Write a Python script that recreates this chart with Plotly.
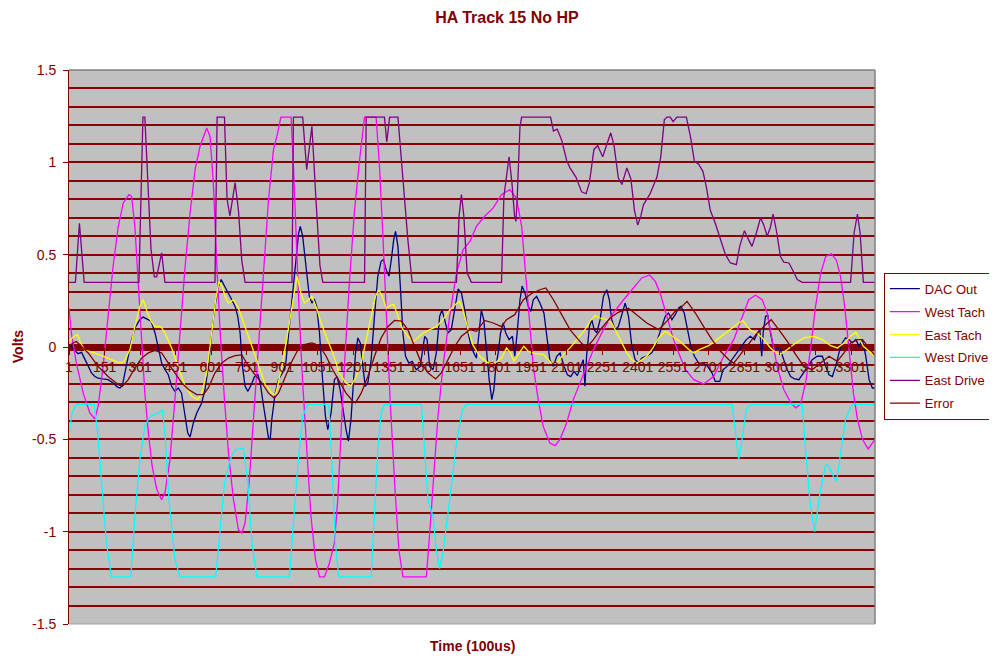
import plotly.graph_objects as go

# values: (sample, volts)
dac_out = [
    (1, 0.013), (11, 0.004), (25, -0.018), (39, -0.036), (54, -0.029), (68, -0.069), (82, -0.105),
    (96, -0.14), (110, -0.16), (124, -0.168), (145, -0.173), (166, -0.177), (187, -0.195), (206, -0.217),
    (216, -0.222), (226, -0.21), (237, -0.14), (251, -0.05), (265, 0.04), (282, 0.11), (300, 0.148),
    (314, 0.162), (333, 0.148), (347, 0.14), (364, 0.076), (378, -0.014), (392, -0.087), (406, -0.123),
    (420, -0.15), (434, -0.213), (448, -0.24), (462, -0.222), (476, -0.25), (491, -0.375), (502, -0.466),
    (512, -0.487), (526, -0.41), (540, -0.357), (561, -0.303), (575, -0.23), (589, -0.105), (603, 0.076),
    (617, 0.22), (632, 0.33), (643, 0.365), (657, 0.33), (674, 0.292), (688, 0.256), (702, 0.22),
    (713, 0.166), (723, 0.076), (733, -0.105), (744, -0.213), (756, -0.24), (770, -0.204), (784, -0.16),
    (798, -0.15), (808, -0.195), (818, -0.285), (829, -0.39), (843, -0.493), (850, -0.5), (857, -0.39),
    (871, -0.25), (885, -0.177), (902, -0.14), (916, -0.087), (928, 0.076), (942, 0.256), (956, 0.473),
    (970, 0.617), (977, 0.653), (987, 0.6), (1001, 0.437), (1015, 0.274), (1026, 0.238), (1036, 0.26),
    (1046, 0.22), (1058, 0.076), (1072, -0.195), (1083, -0.375), (1093, -0.448), (1107, -0.357),
    (1121, -0.177), (1132, -0.16), (1145, -0.23), (1159, -0.357), (1170, -0.448), (1180, -0.51),
    (1191, -0.39), (1201, -0.195), (1210, -0.032), (1220, 0.049), (1230, 0.022), (1241, -0.105),
    (1251, -0.213), (1262, -0.195), (1276, -0.069), (1290, 0.166), (1304, 0.383), (1318, 0.464),
    (1328, 0.473), (1339, 0.419), (1351, 0.383), (1361, 0.473), (1371, 0.58), (1379, 0.626), (1389, 0.545),
    (1399, 0.33), (1410, 0.076), (1421, -0.05), (1435, -0.087), (1449, -0.078), (1466, -0.123),
    (1483, -0.105), (1502, 0.058), (1512, 0.04), (1523, -0.105), (1537, -0.123), (1551, -0.032),
    (1565, 0.166), (1575, 0.2), (1586, 0.148), (1600, 0.076), (1614, 0.094), (1629, 0.22), (1643, 0.314),
    (1657, 0.292), (1671, 0.2), (1685, 0.076), (1699, 0.0), (1709, -0.032), (1720, -0.06), (1731, 0.076),
    (1741, 0.2), (1751, 0.148), (1763, -0.032), (1774, -0.177), (1785, -0.285), (1794, -0.23),
    (1802, -0.105), (1812, -0.032), (1822, 0.076), (1833, 0.13), (1844, 0.076), (1858, 0.04), (1872, 0.058),
    (1882, -0.05), (1892, 0.076), (1904, 0.256), (1913, 0.33), (1925, 0.292), (1939, 0.22), (1950, 0.193),
    (1960, 0.256), (1974, 0.274), (1988, 0.238), (2005, 0.184), (2019, 0.04), (2030, -0.069),
    (2045, -0.105), (2059, -0.05), (2073, -0.032), (2090, -0.105), (2104, -0.15), (2118, -0.16),
    (2132, -0.132), (2146, -0.155), (2160, -0.105), (2171, -0.069), (2178, -0.213), (2185, -0.05),
    (2197, 0.11), (2207, 0.148), (2217, 0.094), (2228, 0.076), (2242, 0.148), (2256, 0.274), (2270, 0.31),
    (2281, 0.256), (2291, 0.148), (2305, 0.094), (2319, 0.11), (2334, 0.184), (2348, 0.238), (2362, 0.166),
    (2376, 0.004), (2390, -0.069), (2404, -0.087), (2418, -0.06), (2439, -0.05), (2460, -0.032),
    (2475, 0.004), (2489, 0.058), (2503, 0.11), (2517, 0.166), (2531, 0.184), (2545, 0.148), (2559, 0.175),
    (2573, 0.21), (2583, 0.22), (2597, 0.184), (2611, 0.094), (2625, 0.004), (2640, -0.05), (2658, -0.087),
    (2679, -0.087), (2696, -0.105), (2714, -0.14), (2728, -0.186), (2747, -0.186), (2761, -0.123),
    (2778, -0.105), (2799, -0.069), (2820, -0.032), (2841, 0.004), (2859, 0.04), (2876, 0.058),
    (2893, 0.04), (2907, 0.076), (2916, 0.094), (2924, -0.05), (2930, 0.076), (2940, 0.166), (2950, 0.17),
    (2961, 0.076), (2975, -0.014), (2989, -0.005), (3003, -0.014), (3017, -0.069), (3032, -0.123),
    (3046, -0.16), (3063, -0.173), (3081, -0.177), (3099, -0.14), (3116, -0.105), (3137, -0.069),
    (3158, -0.05), (3180, -0.05), (3194, -0.105), (3208, -0.15), (3222, -0.16), (3236, -0.105),
    (3250, -0.032), (3264, 0.022), (3278, 0.049), (3292, 0.04), (3306, 0.022), (3321, 0.04), (3335, 0.004),
    (3349, 0.04), (3363, -0.05), (3377, -0.177), (3391, -0.222), (3402, -0.222),
]

west_tach = [
    (1, 0.21), (11, 0.076), (32, -0.087), (61, -0.25), (89, -0.357), (110, -0.39), (124, -0.32),
    (145, -0.105), (166, 0.166), (187, 0.437), (209, 0.653), (230, 0.78), (254, 0.825), (265, 0.816),
    (279, 0.653), (293, 0.33), (307, 0.04), (321, -0.25), (336, -0.466), (352, -0.646), (371, -0.77),
    (392, -0.827), (406, -0.79), (427, -0.61), (448, -0.285), (469, 0.076), (491, 0.437), (512, 0.726),
    (533, 0.96), (554, 1.087), (582, 1.186), (596, 1.14), (610, 0.888), (625, 0.437), (639, 0.076),
    (657, -0.285), (674, -0.574), (695, -0.827), (716, -0.99), (730, -1.007), (744, -0.953), (761, -0.736),
    (780, -0.375), (801, 0.04), (822, 0.437), (843, 0.8), (864, 1.07), (880, 1.15), (895, 1.245),
    (938, 1.245), (948, 0.98), (959, 0.617), (973, 0.166), (987, -0.195), (1004, -0.556), (1022, -0.917),
    (1041, -1.15), (1058, -1.245), (1079, -1.245), (1100, -1.17), (1121, -1.06), (1135, -0.827),
    (1149, -0.466), (1163, -0.105), (1184, 0.346), (1206, 0.744), (1227, 1.014), (1248, 1.245),
    (1297, 1.245), (1311, 0.98), (1325, 0.617), (1339, 0.166), (1356, -0.285), (1375, -0.736),
    (1393, -1.1), (1410, -1.245), (1509, -1.245), (1523, -1.007), (1537, -0.736), (1558, -0.375),
    (1579, -0.105), (1607, 0.166), (1636, 0.4), (1664, 0.527), (1692, 0.57), (1720, 0.653), (1755, 0.708),
    (1791, 0.753), (1826, 0.825), (1861, 0.852), (1889, 0.807), (1911, 0.653), (1925, 0.437), (1943, 0.166),
    (1960, -0.105), (1981, -0.285), (2002, -0.43), (2030, -0.52), (2052, -0.534), (2073, -0.5),
    (2101, -0.41), (2129, -0.285), (2157, -0.195), (2186, -0.105), (2214, -0.014), (2256, 0.094),
    (2298, 0.184), (2341, 0.256), (2383, 0.32), (2418, 0.374), (2451, 0.39), (2475, 0.355), (2496, 0.29),
    (2524, 0.166), (2552, 0.04), (2573, -0.03), (2601, -0.12), (2637, -0.177), (2679, -0.2), (2721, -0.16),
    (2764, -0.05), (2806, 0.04), (2841, 0.166), (2869, 0.256), (2898, 0.28), (2926, 0.256), (2947, 0.184),
    (2968, 0.04), (2989, -0.105), (3017, -0.23), (3046, -0.3), (3067, -0.33), (3088, -0.31), (3109, -0.195),
    (3130, -0.014), (3151, 0.22), (3173, 0.4), (3194, 0.49), (3218, 0.505), (3239, 0.47), (3257, 0.38),
    (3274, 0.22), (3292, -0.014), (3311, -0.25), (3328, -0.39), (3349, -0.5), (3373, -0.552),
    (3391, -0.52), (3402, -0.5),
]

east_tach = [
    (1, 0.03), (18, 0.054), (37, 0.067), (51, 0.02), (68, -0.018), (96, -0.027), (138, -0.047),
    (180, -0.069), (216, -0.087), (234, -0.078), (258, -0.014), (279, 0.11), (300, 0.22), (314, 0.256),
    (328, 0.2), (347, 0.14), (364, 0.11), (389, 0.11), (406, 0.076), (434, -0.005), (462, -0.105),
    (491, -0.213), (519, -0.267), (544, -0.285), (561, -0.25), (582, -0.14), (603, 0.076), (620, 0.256),
    (634, 0.355), (646, 0.33), (660, 0.274), (674, 0.238), (695, 0.256), (716, 0.21), (744, 0.11),
    (773, 0.004), (801, -0.105), (829, -0.204), (857, -0.25), (871, -0.26), (881, -0.213), (902, -0.087),
    (924, 0.076), (945, 0.256), (963, 0.383), (980, 0.29), (994, 0.238), (1012, 0.256), (1026, 0.274),
    (1043, 0.22), (1065, 0.13), (1086, 0.058), (1114, -0.032), (1142, -0.14), (1170, -0.195), (1191, -0.21),
    (1213, -0.16), (1234, -0.087), (1255, 0.04), (1276, 0.166), (1294, 0.274), (1308, 0.31), (1323, 0.274),
    (1340, 0.21), (1356, 0.224), (1371, 0.23), (1389, 0.166), (1410, 0.094), (1431, 0.058), (1455, 0.03),
    (1473, 0.05), (1495, 0.076), (1523, 0.094), (1551, 0.11), (1579, 0.148), (1607, 0.2), (1636, 0.235),
    (1650, 0.247), (1664, 0.2), (1685, 0.094), (1706, 0.01), (1734, -0.05), (1770, -0.087), (1798, -0.087),
    (1826, -0.06), (1847, -0.005), (1864, -0.032), (1878, -0.078), (1901, -0.032), (1920, 0.004),
    (1939, -0.023), (1967, -0.036), (2002, -0.04), (2037, -0.087), (2059, -0.087), (2087, -0.04),
    (2115, -0.005), (2143, 0.04), (2178, 0.094), (2200, 0.14), (2221, 0.17), (2242, 0.157), (2270, 0.148),
    (2291, 0.13), (2312, 0.076), (2334, 0.02), (2355, -0.032), (2376, -0.069), (2397, -0.087),
    (2418, -0.069), (2439, -0.05), (2465, -0.005), (2489, 0.049), (2517, 0.085), (2538, 0.067),
    (2559, 0.049), (2587, 0.022), (2616, -0.014), (2637, -0.032), (2665, -0.011), (2700, 0.007),
    (2735, 0.04), (2771, 0.076), (2806, 0.11), (2827, 0.13), (2845, 0.144), (2862, 0.11), (2883, 0.085),
    (2905, 0.076), (2933, 0.04), (2961, -0.005), (2986, -0.032), (3003, -0.04), (3032, -0.014),
    (3067, 0.022), (3102, 0.049), (3144, 0.058), (3180, 0.04), (3215, 0.007), (3243, -0.005), (3271, 0.022),
    (3299, 0.058), (3321, 0.08), (3335, 0.049), (3353, 0.004), (3377, -0.023), (3402, -0.05),
]

west_drive = [
    (1, -0.466), (14, -0.357), (32, -0.31), (107, -0.31), (121, -0.45), (138, -0.74), (159, -1.06),
    (180, -1.245), (262, -1.245), (279, -0.917), (300, -0.61), (321, -0.43), (343, -0.375), (378, -0.357),
    (395, -0.343), (406, -0.466), (423, -0.83), (448, -1.15), (469, -1.245), (620, -1.245), (639, -0.97),
    (657, -0.74), (681, -0.61), (702, -0.556), (737, -0.547), (756, -0.74), (773, -1.06), (794, -1.245),
    (931, -1.245), (945, -1.01), (966, -0.646), (987, -0.375), (1008, -0.31), (1097, -0.31), (1111, -0.646),
    (1125, -1.06), (1139, -1.245), (1276, -1.245), (1290, -0.917), (1304, -0.556), (1318, -0.357),
    (1332, -0.31), (1488, -0.31), (1502, -0.574), (1516, -0.83), (1537, -0.917), (1551, -1.1),
    (1565, -1.2), (1579, -1.115), (1607, -0.83), (1636, -0.52), (1661, -0.34), (1678, -0.31),
    (2799, -0.31), (2813, -0.466), (2827, -0.61), (2841, -0.5), (2859, -0.34), (2876, -0.31),
    (3095, -0.31), (3109, -0.556), (3127, -0.83), (3147, -1.0), (3170, -0.79), (3194, -0.637),
    (3208, -0.645), (3226, -0.7), (3240, -0.727), (3257, -0.574), (3278, -0.39), (3306, -0.31),
    (3402, -0.31),
]

east_drive = [
    (1, 0.35), (28, 0.35), (45, 0.67), (65, 0.35), (296, 0.35), (304, 0.8), (313, 1.245), (321, 1.245),
    (333, 0.89), (347, 0.53), (361, 0.38), (371, 0.38), (392, 0.51), (406, 0.35), (617, 0.35), (626, 1.245),
    (657, 1.245), (668, 0.8), (680, 0.71), (702, 0.89), (716, 0.74), (730, 0.47), (744, 0.35), (942, 0.35),
    (948, 1.245), (987, 1.245), (1004, 0.96), (1026, 1.195), (1043, 0.8), (1060, 0.44), (1072, 0.35),
    (1248, 0.35), (1255, 1.245), (1332, 1.245), (1342, 1.11), (1354, 1.245), (1389, 1.245), (1410, 0.89),
    (1431, 0.58), (1449, 0.35), (1636, 0.35), (1647, 0.71), (1657, 0.825), (1667, 0.71), (1681, 0.4),
    (1699, 0.35), (1826, 0.35), (1836, 0.815), (1847, 0.94), (1858, 1.03), (1870, 0.89), (1881, 0.71),
    (1887, 0.68), (1892, 0.8), (1904, 1.195), (1911, 1.245), (2033, 1.245), (2045, 1.17), (2061, 1.18),
    (2080, 1.12), (2101, 1.01), (2115, 0.97), (2140, 0.92), (2164, 0.84), (2183, 0.83), (2197, 0.89),
    (2216, 1.07), (2232, 1.09), (2253, 1.03), (2270, 1.1), (2287, 1.16), (2301, 1.09), (2319, 0.915),
    (2334, 0.88), (2355, 0.97), (2372, 0.91), (2387, 0.74), (2401, 0.66), (2414, 0.71), (2425, 0.77),
    (2453, 0.83), (2482, 0.92), (2498, 1.03), (2513, 1.23), (2524, 1.245), (2538, 1.245), (2550, 1.22),
    (2566, 1.245), (2606, 1.245), (2623, 1.14), (2640, 1.005), (2658, 0.99), (2676, 0.95), (2690, 0.87),
    (2707, 0.74), (2728, 0.67), (2750, 0.58), (2771, 0.5), (2792, 0.455), (2817, 0.446), (2831, 0.545),
    (2851, 0.63), (2869, 0.58), (2883, 0.545), (2902, 0.62), (2919, 0.7), (2933, 0.66), (2947, 0.6),
    (2961, 0.65), (2972, 0.72), (2986, 0.63), (3003, 0.49), (3017, 0.46), (3039, 0.455), (3057, 0.41),
    (3074, 0.365), (3095, 0.35), (3299, 0.35), (3314, 0.62), (3328, 0.72), (3339, 0.62), (3353, 0.35),
    (3402, 0.35),
]

error = [
    (1, 0.004), (18, 0.022), (32, 0.03), (54, 0.004), (82, -0.032), (124, -0.105), (166, -0.16),
    (209, -0.204), (226, -0.213), (251, -0.177), (279, -0.114), (307, -0.06), (336, -0.032), (364, -0.018),
    (392, -0.032), (420, -0.087), (448, -0.14), (477, -0.195), (505, -0.23), (540, -0.258), (568, -0.258),
    (589, -0.222), (617, -0.14), (646, -0.087), (674, -0.06), (702, -0.047), (730, -0.043), (751, -0.087),
    (780, -0.14), (815, -0.195), (843, -0.25), (867, -0.276), (885, -0.25), (909, -0.177), (938, -0.087),
    (966, -0.018), (994, 0.013), (1026, 0.022), (1058, 0.007), (1086, -0.05), (1114, -0.123),
    (1142, -0.186), (1170, -0.25), (1199, -0.294), (1210, -0.303), (1234, -0.25), (1262, -0.16),
    (1290, -0.05), (1318, 0.049), (1346, 0.11), (1375, 0.144), (1403, 0.14), (1431, 0.094), (1459, 0.004),
    (1488, -0.087), (1516, -0.14), (1548, -0.173), (1572, -0.14), (1600, -0.069), (1629, 0.004),
    (1657, 0.058), (1692, 0.094), (1720, 0.085), (1755, 0.144), (1791, 0.13), (1826, 0.11), (1847, 0.148),
    (1882, 0.175), (1918, 0.256), (1953, 0.29), (1988, 0.31), (2013, 0.32), (2045, 0.256), (2080, 0.175),
    (2115, 0.094), (2150, 0.04), (2183, -0.005), (2214, 0.04), (2249, 0.103), (2284, 0.157), (2319, 0.188),
    (2362, 0.21), (2397, 0.175), (2439, 0.13), (2489, 0.094), (2524, 0.14), (2559, 0.193), (2580, 0.21),
    (2609, 0.247), (2644, 0.184), (2679, 0.11), (2714, 0.04), (2750, -0.023), (2785, -0.069),
    (2806, -0.087), (2834, -0.04), (2869, 0.022), (2905, 0.076), (2940, 0.12), (2964, 0.148), (2996, 0.094),
    (3032, 0.03), (3067, -0.04), (3102, -0.105), (3137, -0.123), (3173, -0.087), (3208, -0.05),
    (3243, -0.078), (3271, -0.032), (3299, 0.022), (3328, 0.04), (3349, 0.04), (3370, 0.004),
    (3402, -0.047),
]

x_tick_labels = ["1", "151", "301", "451", "601", "751", "901", "1051", "1201", "1351", "1501",
                 "1651", "1801", "1951", "2101", "2251", "2401", "2551", "2701", "2851", "3001",
                 "3151", "3301"]
y_tick_labels = ["-1.5", "-1", "-0.5", "0", "0.5", "1", "1.5"]

DARK_RED = "#800000"
GRID_RED = "#8B0000"
FONT = "Liberation Sans, Arial, sans-serif"

series = [
    ("DAC Out", dac_out, "#000080"),
    ("West Tach", west_tach, "#FF00FF"),
    ("East Tach", east_tach, "#FFFF00"),
    ("West Drive", west_drive, "#00FFFF"),
    ("East Drive", east_drive, "#800080"),
    ("Error", error, "#800000"),
]

fig = go.Figure()
for name, pts, color in series:
    xs, ys = zip(*pts)
    fig.add_trace(go.Scatter(
        x=list(xs), y=list(ys), mode="lines", name=name, legendgroup=name,
        line=dict(color=color, width=1.3),
    ))

# the page body adds an 8px offset, so the figure is 8px smaller on each side
fig.update_layout(
    width=989, height=652,
    margin=dict(l=61, r=122, t=62, b=36, autoexpand=False),
    paper_bgcolor="white",
    plot_bgcolor="#C0C0C0",
    font=dict(family=FONT, color=DARK_RED, size=14),
    title=dict(text="<b>HA Track 15 No HP</b>", x=0.5045, xanchor="center",
               y=0.986, yanchor="middle", font=dict(size=16, color=DARK_RED)),
    xaxis=dict(
        range=[1, 3402], anchor="free", position=0.5,
        tickmode="array", tickvals=[int(t) for t in x_tick_labels], ticktext=x_tick_labels,
        showgrid=False, zeroline=False, showline=False,
        ticks="outside", ticklen=7, tickcolor=DARK_RED,
        tickfont=dict(size=14, color=DARK_RED),
    ),
    yaxis=dict(
        range=[-1.5, 1.5], domain=[0, 1],
        tickmode="array", tickvals=[float(t) for t in y_tick_labels], ticktext=y_tick_labels,
        ticks="outside", ticklen=5, tickcolor=DARK_RED, ticklabelstandoff=4,
        showline=True, linecolor=DARK_RED, linewidth=1,
        showgrid=True, gridcolor=GRID_RED, gridwidth=1.5,
        minor=dict(dtick=0.1, tick0=0, showgrid=True, gridcolor=GRID_RED, gridwidth=1.5),
        zeroline=True, zerolinecolor=DARK_RED, zerolinewidth=7,
        tickfont=dict(size=14, color=DARK_RED),
    ),
    legend=dict(
        x=1.011, y=0.634, xanchor="left", yanchor="top",
        bgcolor="white", bordercolor=DARK_RED, borderwidth=1,
        font=dict(size=13, color=DARK_RED),
        traceorder="grouped", tracegroupgap=3, itemwidth=30,
    ),
    showlegend=True,
    annotations=[
        dict(text="<b>Volts</b>", xref="paper", yref="paper", x=-0.063, y=0.5,
             textangle=-90, showarrow=False, font=dict(size=14, color=DARK_RED),
             xanchor="center", yanchor="middle"),
        dict(text="<b>Time (100us)</b>", xref="paper", yref="paper", x=0.501, y=-0.04,
             showarrow=False, font=dict(size=14, color=DARK_RED),
             xanchor="center", yanchor="middle"),
    ],
    shapes=[
        dict(type="line", xref="paper", yref="paper", x0=0, x1=1, y0=1, y1=1,
             line=dict(color="#808080", width=1.5)),
        dict(type="line", xref="paper", yref="paper", x0=1, x1=1, y0=0, y1=1,
             line=dict(color="#808080", width=1.5)),
        dict(type="line", xref="paper", yref="paper", x0=0, x1=1, y0=0, y1=0,
             line=dict(color="#A0A0A0", width=1)),
    ],
)

fig.write_html("out.html")
